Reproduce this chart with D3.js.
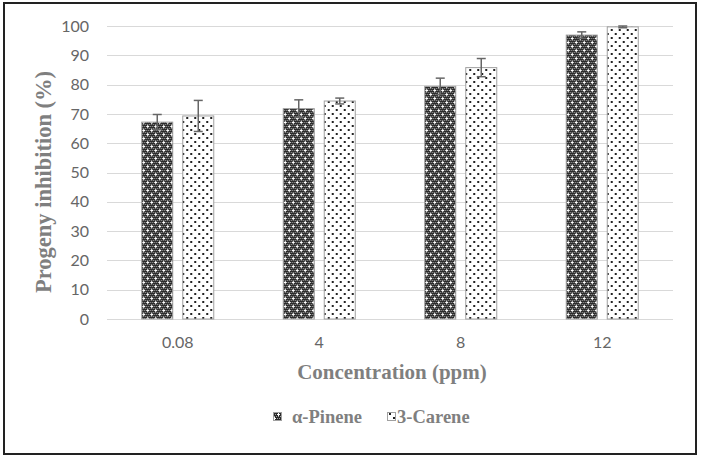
<!DOCTYPE html>
<html><head><meta charset="utf-8">
<script src="https://cdn.jsdelivr.net/npm/d3@7"></script>
<style>body{margin:0;background:#fff}svg{display:block}</style>
</head><body>
<svg id="c" width="701" height="460"></svg>
<script>
const categories = ["0.08", "4", "8", "12"];
const seriesNames = ["α-Pinene", "3-Carene"];
const pineneValues = [67.2, 71.8, 79.4, 96.9];
const pineneErrors = [2.6, 3.0, 2.8, 1.1];
const careneValues = [69.3, 74.4, 85.8, 99.7];
const careneErrors = [5.3, 1.0, 3.1, 0.3];
const yTicks = [0, 10, 20, 30, 40, 50, 60, 70, 80, 90, 100];

const svg = d3.select("#c");
const defs = svg.append("defs");

// α-Pinene pattern: dark fine checker with white crosses
const p1 = defs.append("pattern").attr("id","pinene").attr("patternUnits","userSpaceOnUse")
  .attr("width",8).attr("height",8);
p1.append("rect").attr("width",8).attr("height",8).attr("fill","#2b2b2b");
for (let i=0;i<8;i+=2) for (let j=0;j<8;j+=2) {
  p1.append("rect").attr("x",i+((j/2)%2)).attr("y",j).attr("width",1).attr("height",1).attr("fill","#a0a0a0");
}
[[2,2],[6,6]].forEach(([cx,cy])=>{
  p1.append("rect").attr("x",cx-1).attr("y",cy).attr("width",3).attr("height",1).attr("fill","#fff");
  p1.append("rect").attr("x",cx).attr("y",cy-1).attr("width",1).attr("height",3).attr("fill","#fff");
});
// 3-Carene pattern: white with black dots
const p2 = defs.append("pattern").attr("id","carene").attr("patternUnits","userSpaceOnUse")
  .attr("width",8).attr("height",8);
p2.append("rect").attr("width",8).attr("height",8).attr("fill","#fff");
[[1,1],[5,5]].forEach(([x,y])=>p2.append("rect").attr("x",x).attr("y",y).attr("width",2).attr("height",2).attr("fill","#222"));

// frame
svg.append("rect").attr("x",4).attr("y",3).attr("width",692).attr("height",451)
  .attr("fill","none").attr("stroke","#222").attr("stroke-width",2);

const x0 = d3.scaleBand().domain(categories).range([107,673]).paddingInner(0.484).paddingOuter(0.242);
const x1 = d3.scaleBand().domain(seriesNames).range([0,x0.bandwidth()]).paddingInner(9/41);
const y = d3.scaleLinear().domain([0,100]).range([319,26]);

// gridlines
svg.append("g").selectAll("line").data(yTicks).join("line")
  .attr("x1",107).attr("x2",673).attr("y1",d=>Math.round(y(d))+0.5).attr("y2",d=>Math.round(y(d))+0.5)
  .attr("stroke","#d9d9d9").attr("stroke-width",1);

// y tick labels
svg.append("g").selectAll("text").data(yTicks).join("text")
  .attr("x",89).attr("y",d=>y(d)).attr("dy","0.35em").attr("text-anchor","end")
  .attr("font-family","Lato, 'Open Sans', sans-serif").attr("font-size",16).attr("fill","#666")
  .text(d=>d);

// x tick labels
svg.append("g").selectAll("text").data(categories).join("text")
  .attr("x",d=>x0(d)+x0.bandwidth()/2).attr("y",348).attr("text-anchor","middle")
  .attr("font-family","Lato, 'Open Sans', sans-serif").attr("font-size",16).attr("fill","#666")
  .text(d=>d);

const data = categories.map((c,i)=>({c, vals:[
  {s:seriesNames[0], v:pineneValues[i], e:pineneErrors[i], fill:"url(#pinene)"},
  {s:seriesNames[1], v:careneValues[i], e:careneErrors[i], fill:"url(#carene)"}]}));

const groups = svg.append("g").selectAll("g").data(data).join("g")
  .attr("transform",d=>`translate(${x0(d.c)},0)`);
groups.selectAll("rect").data(d=>d.vals).join("rect")
  .attr("x",d=>x1(d.s)+0.5).attr("y",d=>y(d.v)).attr("width",x1.bandwidth()-1).attr("height",d=>y(0)-y(d.v))
  .attr("fill",d=>d.fill).attr("stroke","#a0a0a0").attr("stroke-width",1);

// error bars
const eb = groups.selectAll("g.eb").data(d=>d.vals).join("g").attr("class","eb");
eb.append("line").attr("x1",d=>x1(d.s)+x1.bandwidth()/2).attr("x2",d=>x1(d.s)+x1.bandwidth()/2)
  .attr("y1",d=>y(d.v+d.e)).attr("y2",d=>y(d.v-d.e)).attr("stroke","#666").attr("stroke-width",1.5);
["top","bot"].forEach(k=>{
  eb.append("line").attr("x1",d=>x1(d.s)+x1.bandwidth()/2-4.5).attr("x2",d=>x1(d.s)+x1.bandwidth()/2+4.5)
    .attr("y1",d=>y(k==="top"?d.v+d.e:d.v-d.e)).attr("y2",d=>y(k==="top"?d.v+d.e:d.v-d.e))
    .attr("stroke","#666").attr("stroke-width",1.5);
});

// axis titles
svg.append("text").attr("x",392).attr("y",379).attr("text-anchor","middle")
  .attr("font-family","'Liberation Serif', serif").attr("font-weight","bold").attr("font-size",21)
  .attr("fill","#7f7f7f").text("Concentration (ppm)");
svg.append("text").attr("transform","translate(51,182) rotate(-90)").attr("text-anchor","middle")
  .attr("font-family","'Liberation Serif', serif").attr("font-weight","bold").attr("font-size",22.5)
  .attr("fill","#7f7f7f").text("Progeny inhibition (%)");

// legend
const legend = [{name:seriesNames[0], fill:"url(#pinene)", x:273},{name:seriesNames[1], fill:"url(#carene)", x:387}];
const lg = svg.append("g").selectAll("g").data(legend).join("g");
lg.append("rect").attr("x",d=>d.x+0.5).attr("y",412.5).attr("width",8).attr("height",8)
  .attr("fill",d=>d.fill).attr("stroke","#a0a0a0");
lg.append("text").attr("x",d=>d.x+(d.name==="α-Pinene"?19:10)).attr("y",423)
  .attr("font-family","'Liberation Serif', serif").attr("font-weight","bold").attr("font-size",18.5)
  .attr("fill","#7f7f7f").text(d=>d.name);
</script>
</body></html>
